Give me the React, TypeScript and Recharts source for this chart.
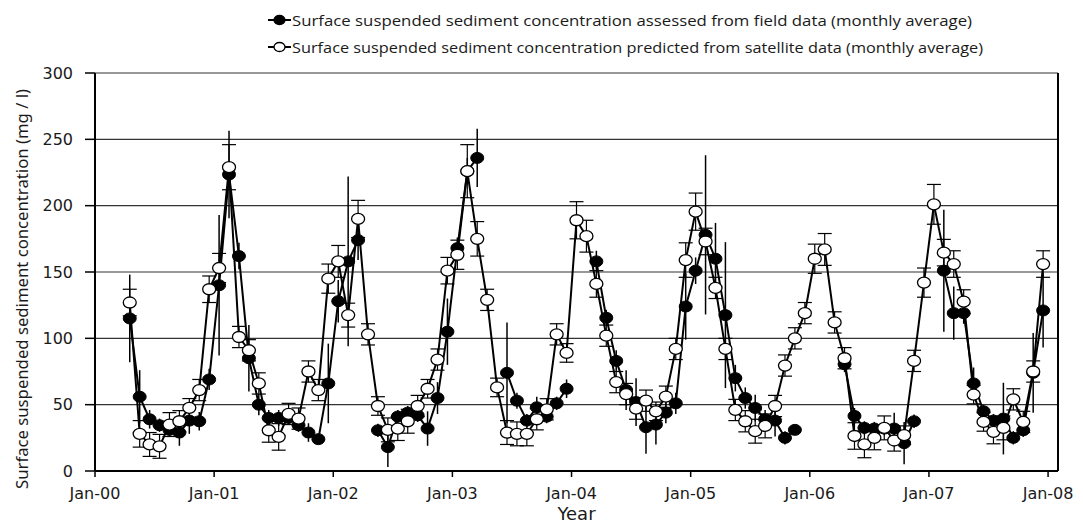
import {
  LineChart,
  Line,
  XAxis,
  YAxis,
  CartesianGrid,
  ErrorBar,
  Legend,
  ReferenceLine,
} from "recharts";

// first data month is Apr 2000 (month index 3, Jan 2000 = 0)
const FIRST_MONTH = 3;

const YEAR_LABELS = ["Jan-00", "Jan-01", "Jan-02", "Jan-03", "Jan-04", "Jan-05", "Jan-06", "Jan-07", "Jan-08"];
const Y_TICKS = [0, 50, 100, 150, 200, 250, 300];

const SERIES_NAMES = [
  "Surface suspended sediment concentration assessed from field data (monthly average)",
  "Surface suspended sediment concentration predicted from satellite data (monthly average)",
];

// field data, Apr 2000 .. Dec 2007
const fieldValues = [
  115, 56, 39, 34.5, 31, 29, 38, 37.5, 69,
  140, 223.5, 162, 85, 50, 40, 40, 40, 34.5, 29, 24, 66,
  128, 158, 174, null, 30.7, 18, 41, 44, 42, 32, 55, 105,
  168, 226, 236, null, null, 74, 53, 38, 48, 41, 51, 62,
  null, null, 158, 115.5, 83, 61, 52, 33, 35, 44, 51, 124,
  151, 178, 160, 117.5, 70, 55, 47.5, 39, 38, 25, 31, null,
  null, null, null, 80.5, 41.5, 32.5, 32, 32, 32, 21, 37.5, null,
  null, 151, 119, 119, 66, 45, 38, 39.5, 25, 30.7, 74, 121,
];

const fieldErrors = [
  33, 20, 7, 5, 5, 10, 10, 7, 8,
  53, 33, 10, 25, 8, 6, 6, 5, 5, 7, 3, 30,
  16, 64, 15, null, 5, 15, 5, 5, 5, 13, 12, 25,
  8, 10, 22, null, null, 38, 6, 5, 8, 5, 5, 7,
  null, null, 8, 6, 8, 15, 18, 20, 15, 8, 8, 25,
  10, 60, 27, 55, 10, 8, 10, 7, 12, 5, 3, null,
  null, null, null, 6, 6, 5, 5, 5, 12, 16, 5, null,
  null, 46, 20, 8, 12, 5, 5, 27, 5, 5, 30, 28,
];

// satellite data, Apr 2000 .. Dec 2007
const satelliteValues = [
  127, 28, 20, 18.6, 35, 37.5, 47.6, 61, 137,
  153, 229, 101, 91, 66, 30.7, 25.7, 43, 39.5, 75, 61, 145,
  158, 117.5, 190, 103, 49, 31, 32, 37.5, 49, 62, 84, 151,
  163, 226, 175, 129, 63, 29, 28, 28, 39, 46.5, 103, 89,
  189, 177, 141, 102, 67, 58, 47, 53, 45, 56, 92, 159,
  195.5, 173, 138, 92, 46, 37.5, 30, 34, 49, 79.5, 100, 119,
  160, 167, 112, 85, 26.4, 20, 25, 32.5, 23, 27, 83, 142,
  201, 164.6, 156, 127.6, 57.6, 37, 29.5, 32.5, 54, 37, 75, 156,
];

const satelliteErrors = [
  10, 10, 9, 9, 9, 8, 7, 8, 10,
  11, 17, 8, 8, 8, 9, 10, 8, 8, 8, 8, 11,
  12, 9, 14, 8, 7, 9, 9, 9, 8, 7, 8, 10,
  11, 20, 13, 8, 7, 9, 9, 9, 8, 8, 8, 7,
  14, 12, 10, 8, 8, 8, 8, 8, 7, 8, 8, 13,
  14, 10, 8, 8, 8, 8, 9, 9, 8, 8, 8, 8,
  11, 12, 8, 8, 10, 10, 9, 9, 8, 7, 8, 11,
  15, 10, 10, 9, 7, 7, 9, 9, 8, 8, 8, 10,
];

const data = fieldValues.map((v, i) => ({
  month: FIRST_MONTH + i + 0.5,
  field: v,
  fieldErr: fieldErrors[i],
  satellite: satelliteValues[i],
  satelliteErr: satelliteErrors[i],
}));

const TICK_FONT = { fontFamily: "DejaVu Sans", fontSize: 16, fill: "#1a1a1a" };

const FieldDot = (props: any) => {
  const { cx, cy, index } = props;
  if (cx == null || cy == null || props.value == null) return <g key={`f${index}`} />;
  return <ellipse key={`f${index}`} cx={cx} cy={cy} rx={6.5} ry={5.5} fill="#000" stroke="#000" strokeWidth={1} />;
};

const SatelliteDot = (props: any) => {
  const { cx, cy, index } = props;
  if (cx == null || cy == null || props.value == null) return <g key={`s${index}`} />;
  return <ellipse key={`s${index}`} cx={cx} cy={cy} rx={6.5} ry={5.5} fill="#fff" stroke="#000" strokeWidth={1.3} />;
};

const renderLegend = () => (
  <svg width={1083} height={60}>
    {SERIES_NAMES.map((name, i) => {
      const y = 20 + i * 27;
      return (
        <g key={name}>
          <line x1={268} x2={291} y1={y} y2={y} stroke="#000" strokeWidth={2} />
          <ellipse cx={279.5} cy={y} rx={5.5} ry={4.5} fill={i === 0 ? "#000" : "#fff"} stroke="#000" strokeWidth={1.3} />
          <text
            x={292}
            y={y}
            dominantBaseline="central"
            fontFamily="Open Sans"
            fontSize={14.5}
            fill="#1a1a1a"
            textLength={i === 0 ? 680 : 691}
            lengthAdjust="spacingAndGlyphs"
          >
            {name}
          </text>
        </g>
      );
    })}
  </svg>
);

const renderYLabel = () => (
  <text
    x={22}
    y={289}
    transform="rotate(-90 22 289)"
    textAnchor="middle"
    dominantBaseline="central"
    fontFamily="Noto Sans"
    fontSize={16}
    fill="#1a1a1a"
    textLength={400}
    lengthAdjust="spacingAndGlyphs"
  >
    Surface suspended sediment concentration (mg / l)
  </text>
);

export default function App() {
  return (
    <div style={{ position: "absolute", left: 0, top: 0, background: "#fff" }}>
      <LineChart width={1083} height={523} data={data} margin={{ top: 73, right: 25, bottom: 0, left: 0 }}>
        <CartesianGrid vertical={false} stroke="#333" strokeWidth={1.2} />
        <XAxis
          type="number"
          dataKey="month"
          domain={[0, 97]}
          ticks={YEAR_LABELS.map((_, i) => i * 12)}
          tickFormatter={(v: number) => YEAR_LABELS[v / 12]}
          allowDataOverflow
          height={52}
          tick={TICK_FONT}
          tickSize={6}
          tickMargin={11}
          axisLine={{ stroke: "#000", strokeWidth: 2 }}
          tickLine={{ stroke: "#000", strokeWidth: 1.5 }}
          label={{ value: "Year", position: "insideBottom", offset: 3, style: { fontFamily: "DejaVu Sans", fontSize: 18, fill: "#1a1a1a" } }}
        />
        <YAxis
          domain={[0, 300]}
          ticks={Y_TICKS}
          width={95}
          tick={TICK_FONT}
          tickSize={10}
          tickMargin={12}
          axisLine={{ stroke: "#000", strokeWidth: 2 }}
          tickLine={{ stroke: "#000", strokeWidth: 1.5 }}
          label={renderYLabel}
        />
        <ReferenceLine x={97} stroke="#000" strokeWidth={2} />
        <Legend
          layout="horizontal"
          verticalAlign="middle"
          align="center"
          wrapperStyle={{ top: 0, left: 0, width: 1083, height: 60 }}
          content={renderLegend}
        />
        <Line
          type="linear"
          dataKey="field"
          name={SERIES_NAMES[0]}
          stroke="#000"
          strokeWidth={2}
          dot={FieldDot}
          activeDot={false}
          isAnimationActive={false}
        >
          <ErrorBar dataKey="fieldErr" direction="y" width={0} stroke="#000" strokeWidth={1.5} />
        </Line>
        <Line
          type="linear"
          dataKey="satellite"
          name={SERIES_NAMES[1]}
          stroke="#000"
          strokeWidth={2}
          dot={SatelliteDot}
          activeDot={false}
          isAnimationActive={false}
        >
          <ErrorBar dataKey="satelliteErr" direction="y" width={7} stroke="#000" strokeWidth={1.2} />
        </Line>
      </LineChart>
    </div>
  );
}
